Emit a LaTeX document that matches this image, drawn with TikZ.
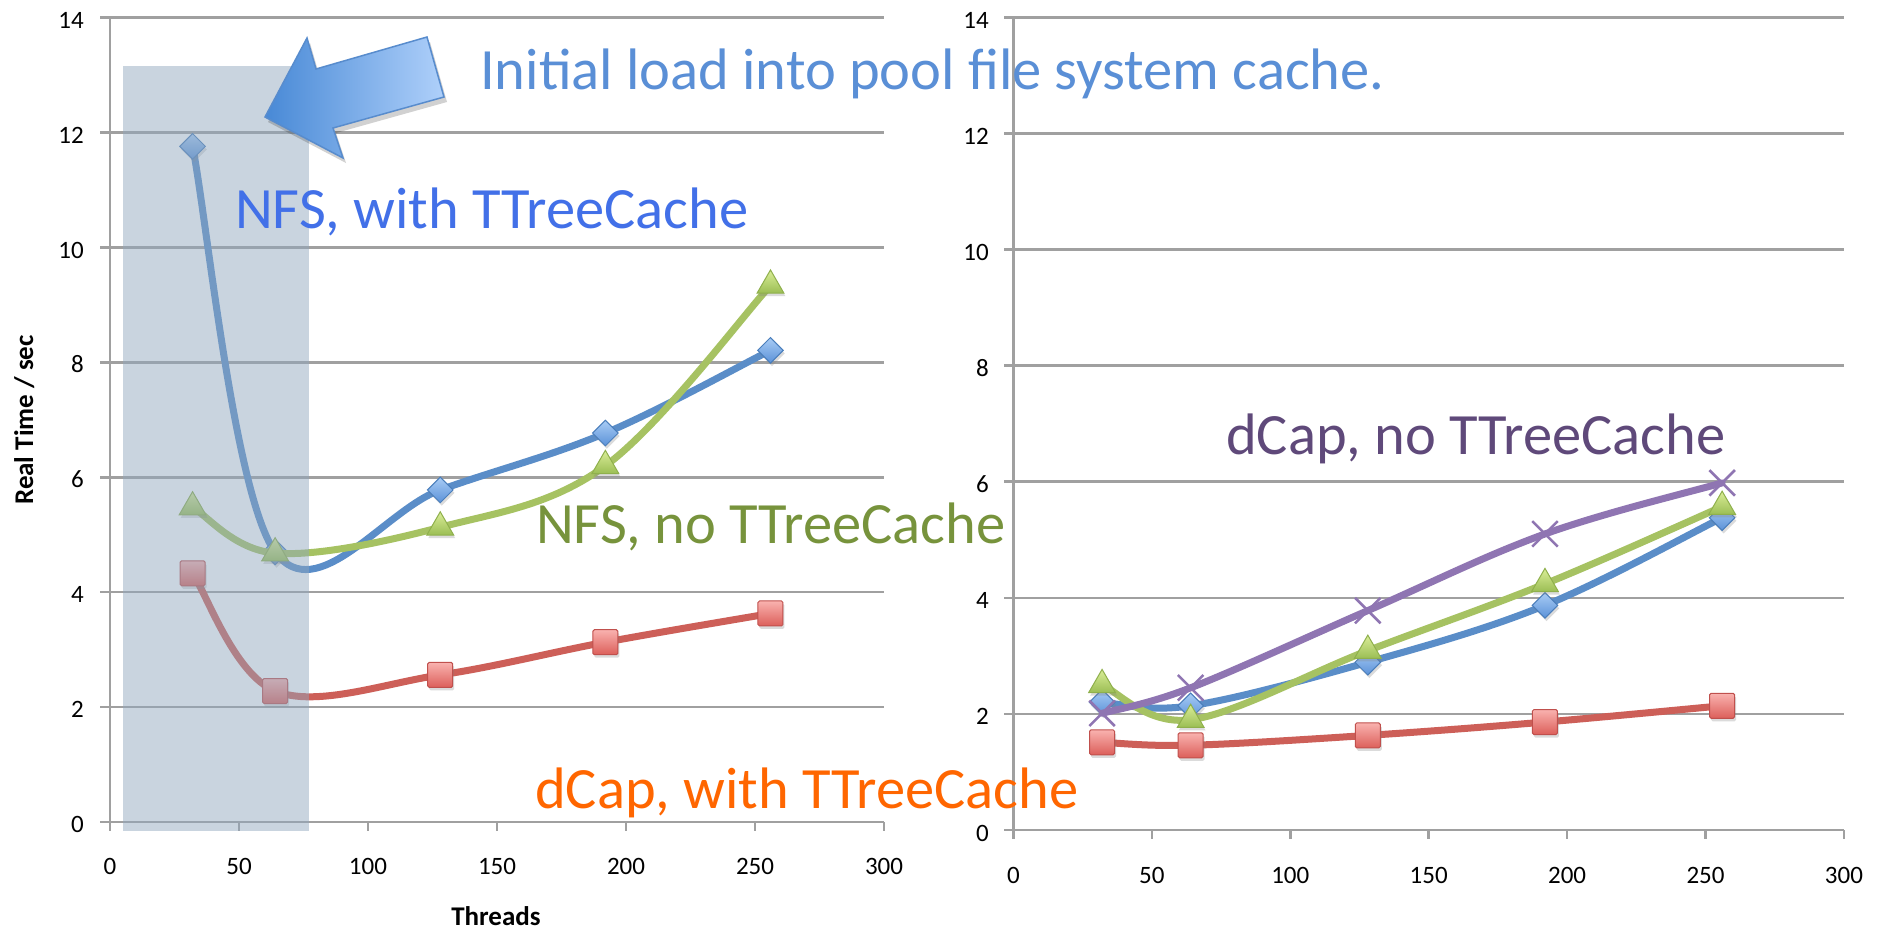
\documentclass[tikz,border=0pt]{standalone}
\usepackage{fontspec}
\setmainfont{Carlito}
\usetikzlibrary{calc,shapes.geometric,shapes.misc,shadows}

\definecolor{gridc}{RGB}{160,160,160}
\definecolor{bline}{RGB}{90,141,200}
\definecolor{rline}{RGB}{205,95,88}
\definecolor{gline}{RGB}{166,194,98}
\definecolor{pline}{RGB}{143,117,178}
\definecolor{shadec}{RGB}{144,167,190}
\definecolor{titleblue}{RGB}{90,143,214}
\definecolor{nfswith}{RGB}{66,112,232}
\definecolor{nfsno}{RGB}{119,147,60}
\definecolor{dcapwith}{RGB}{255,102,0}
\definecolor{dcapno}{RGB}{95,73,122}
\definecolor{arrowdark}{RGB}{72,137,214}
\definecolor{arrowlight}{RGB}{175,208,250}
\definecolor{arrowedge}{RGB}{88,140,205}

\newcommand\crcurve[6]{%
  \draw[#1] (#2) .. controls ($(#2)!1/6!(#3)$) and ($(#3)+1/6*(#2)-1/6*(#4)$) .. (#3)
    .. controls ($(#3)+1/6*(#4)-1/6*(#2)$) and ($(#4)+1/6*(#3)-1/6*(#5)$) .. (#4)
    .. controls ($(#4)+1/6*(#5)-1/6*(#3)$) and ($(#5)+1/6*(#4)-1/6*(#6)$) .. (#5)
    .. controls ($(#5)+1/6*(#6)-1/6*(#4)$) and ($(#6)!1/6!(#5)$) .. (#6);}

\tikzset{
  gridline/.style={draw=gridc, line width=2.5pt},
  ylab/.style={anchor=base east, inner sep=0, font=\fontsize{25}{30}\selectfont},
  xlab/.style={anchor=base, inner sep=0, font=\fontsize{25}{30}\selectfont},
  axtitle/.style={inner sep=0, font=\fontsize{27}{32}\selectfont\bfseries},
  series/.style={line width=7pt, line cap=round, line join=round},
  mk/.style={inner sep=0, drop shadow={opacity=0.28, shadow xshift=1.5pt, shadow yshift=-3pt}},
  bdia/.style={mk, diamond, minimum width=26pt, minimum height=26pt,
     top color={rgb,255:red,168;green,204;blue,245}, bottom color={rgb,255:red,92;green,146;blue,216},
     draw={rgb,255:red,74;green,126;blue,187}, line width=1pt},
  gtri/.style={mk, regular polygon, regular polygon sides=3, minimum size=31pt,
     top color={rgb,255:red,218;green,237;blue,152}, bottom color={rgb,255:red,155;green,190;blue,84},
     draw={rgb,255:red,143;green,176;blue,76}, line width=1pt},
  rsq/.style={mk, rectangle, minimum width=25pt, minimum height=25pt, rounded corners=1.5pt,
     top color={rgb,255:red,249;green,178;blue,175}, bottom color={rgb,255:red,220;green,95;blue,90},
     draw={rgb,255:red,192;green,80;blue,77}, line width=1pt},
  pcross/.style={cross out, inner sep=0, minimum size=23pt, draw=pline, line width=2.5pt},
  lbl/.style={anchor=base west, inner sep=0, font=\fontsize{58.5}{66}\selectfont},
}

\begin{document}
\begin{tikzpicture}[x=1pt, y=-1pt]
\useasboundingbox (0,0) rectangle (1881,930);
\fill[white] (0,0) rectangle (1881,930);

% ---------- left chart frame ----------
\foreach \k in {0,2,...,14} {
  \draw[gridline] (100,{822-\k*57.45}) -- (884,{822-\k*57.45});
  \node[ylab] (ly\k) at (84,{832.5-\k*57.45}) {\k};
}
\draw[gridline] (110,17.7) -- (110,831);
\foreach \i [evaluate=\i as \v using int(\i*50)] in {0,...,6} {
  \draw[gridline] ({110+\i*129},822) -- ({110+\i*129},831);
  \node[xlab] (lx\i) at ({110+\i*129},874) {\v};
}
\node[axtitle, anchor=base] (xtitle) at (496,925) {Threads};
\node[axtitle, anchor=base, rotate=90] (ytitle) at (33,420) {Real Time / sec};

% ---------- right chart frame ----------
\foreach \k in {0,2,...,14} {
  \draw[gridline] (1004,{830-\k*58.05}) -- (1844,{830-\k*58.05});
  \node[ylab] (ry\k) at (989,{841-\k*58.05}) {\k};
}
\draw[gridline] (1013.5,17.3) -- (1013.5,839);
\foreach \i [evaluate=\i as \v using int(\i*50)] in {0,...,6} {
  \draw[gridline] ({1013.5+\i*138.4},830) -- ({1013.5+\i*138.4},839);
  \node[xlab] (rx\i) at ({1013.5+\i*138.4},883) {\v};
}

% ---------- left data ----------
\begin{scope}[shift={(110pt,-822pt)}, x=2.58pt, y=57.45pt]
  \coordinate (lb1) at (32,11.76); \coordinate (lb2) at (64,4.70); \coordinate (lb3) at (128,5.78);
  \coordinate (lb4) at (192,6.77); \coordinate (lb5) at (256,8.21);
  \coordinate (lr1) at (32,4.33); \coordinate (lr2) at (64,2.28); \coordinate (lr3) at (128,2.56);
  \coordinate (lr4) at (192,3.13); \coordinate (lr5) at (256,3.63);
  \coordinate (lg1) at (32,5.48); \coordinate (lg2) at (64,4.68); \coordinate (lg3) at (128,5.13);
  \coordinate (lg4) at (192,6.20); \coordinate (lg5) at (256,9.34);
\end{scope}
\crcurve{series, bline}{lb1}{lb2}{lb3}{lb4}{lb5}
\foreach \i in {1,...,5} \node[bdia] (lbm\i) at (lb\i) {};
\crcurve{series, rline}{lr1}{lr2}{lr3}{lr4}{lr5}
\foreach \i in {1,...,5} \node[rsq] (lrm\i) at (lr\i) {};
\crcurve{series, gline}{lg1}{lg2}{lg3}{lg4}{lg5}
\foreach \i in {1,...,5} \node[gtri] (lgm\i) at (lg\i) {};

% shaded band (drawn over the data)
\fill[shadec, opacity=0.48] (123,66) rectangle (309,831);

% ---------- right data ----------
\begin{scope}[shift={(1013.5pt,-830pt)}, x=2.768pt, y=58.05pt]
  \coordinate (rb1) at (32,2.20); \coordinate (rb2) at (64,2.14); \coordinate (rb3) at (128,2.89);
  \coordinate (rb4) at (192,3.87); \coordinate (rb5) at (256,5.38);
  \coordinate (rr1) at (32,1.51); \coordinate (rr2) at (64,1.46); \coordinate (rr3) at (128,1.63);
  \coordinate (rr4) at (192,1.86); \coordinate (rr5) at (256,2.14);
  \coordinate (rg1) at (32,2.50); \coordinate (rg2) at (64,1.90); \coordinate (rg3) at (128,3.09);
  \coordinate (rg4) at (192,4.24); \coordinate (rg5) at (256,5.57);
  \coordinate (rp1) at (32,2.01); \coordinate (rp2) at (64,2.45); \coordinate (rp3) at (128,3.78);
  \coordinate (rp4) at (192,5.10); \coordinate (rp5) at (256,5.98);
\end{scope}
\crcurve{series, bline}{rb1}{rb2}{rb3}{rb4}{rb5}
\foreach \i in {1,...,5} \node[bdia] (rbm\i) at (rb\i) {};
\crcurve{series, rline}{rr1}{rr2}{rr3}{rr4}{rr5}
\foreach \i in {1,...,5} \node[rsq] (rrm\i) at (rr\i) {};
\crcurve{series, gline}{rg1}{rg2}{rg3}{rg4}{rg5}
\foreach \i in {1,...,5} \node[gtri] (rgm\i) at (rg\i) {};
\crcurve{series, pline}{rp1}{rp2}{rp3}{rp4}{rp5}
\foreach \i in {1,...,5} \node[pcross] (rpm\i) at (rp\i) {};

% ---------- callout arrow ----------
\fill[black, opacity=0.18] (268,122) -- (346,163) -- (336,133) -- (447,102) -- (430,42) -- (319,74) -- (310,43) -- cycle;
\draw[draw=arrowedge, line width=1.5pt, line join=miter, left color=arrowdark, right color=arrowlight]
  (265,117) -- (343,158) -- (333,128) -- (444,97) -- (427,37) -- (316,69) -- (307,38) -- cycle;

% ---------- annotations ----------
\node[lbl, text=titleblue] (title) at (480,89) {Initial load into pool file system cache.};
\node[lbl, text=nfswith] (nfsw) at (235,228) {NFS, with TTreeCache};
\node[lbl, text=nfsno] (nfsn) at (536,543) {NFS, no TTreeCache};
\node[lbl, text=dcapwith] (dcw) at (535,808) {dCap, with TTreeCache};
\node[lbl, text=dcapno] (dcn) at (1226,454) {dCap, no TTreeCache};
\end{tikzpicture}
\end{document}
